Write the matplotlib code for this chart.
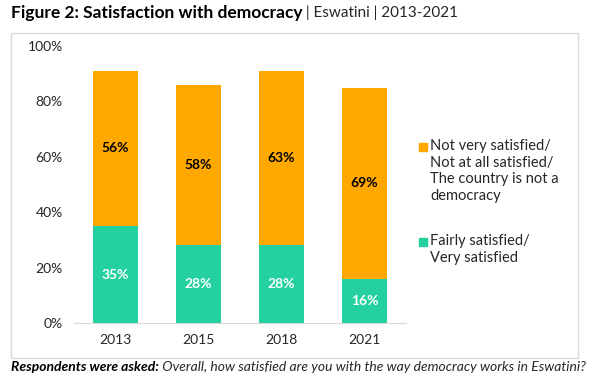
import matplotlib
matplotlib.use("Agg")
import matplotlib.pyplot as plt
from matplotlib.patches import Rectangle
from matplotlib.ticker import PercentFormatter

years = ["2013", "2015", "2018", "2021"]
satisfied = [35, 28, 28, 16]
not_satisfied = [56, 58, 63, 69]
yticks = [0, 20, 40, 60, 80, 100]

orange = "#FFA800"
green = "#25D0A0"
W, H = 609, 383

plt.rcParams["font.family"] = ["Lato", "DejaVu Sans"]

fig = plt.figure(figsize=(W / 100, H / 100), dpi=100)

# outer frame
fig.patches.append(Rectangle((11 / W, 1 - 358 / H), 567 / W, 325 / H,
                             transform=fig.transFigure, fill=False,
                             edgecolor="#d9d9d9", linewidth=1))

ax = fig.add_axes([74 / W, 1 - 323 / H, 332 / W, 277 / H])
x = range(len(years))
ax.bar(x, satisfied, width=0.55, color=green)
ax.bar(x, not_satisfied, width=0.55, bottom=satisfied, color=orange)

for i in x:
    ax.text(i, satisfied[i] / 2, f"{satisfied[i]}%", ha="center", va="center",
            color="white", fontsize=10, fontweight="bold")
    ax.text(i, satisfied[i] + not_satisfied[i] / 2, f"{not_satisfied[i]}%",
            ha="center", va="center", color="black", fontsize=10, fontweight="bold")

ax.set_xlim(-0.5, len(years) - 0.5)
ax.set_ylim(0, 100)
ax.set_yticks(yticks)
ax.yaxis.set_major_formatter(PercentFormatter(decimals=0))
ax.set_xticks(list(x))
ax.set_xticklabels(years)
for s in ["top", "right", "left"]:
    ax.spines[s].set_visible(False)
ax.spines["bottom"].set_color("#d9d9d9")
ax.tick_params(axis="both", length=0, labelsize=10, colors="#262626")
ax.tick_params(axis="y", pad=8)
ax.tick_params(axis="x", pad=8)

# legend drawn by hand
legend_items = [
    (orange, "Not very satisfied/\nNot at all satisfied/\nThe country is not a\ndemocracy", 147),
    (green, "Fairly satisfied/\nVery satisfied", 242),
]
for col, lab, ytop in legend_items:
    fig.patches.append(Rectangle((419 / W, 1 - (ytop + 4) / H), 8 / W, 8 / H,
                                 transform=fig.transFigure, color=col))
    fig.text(430 / W, 1 - (ytop - 8) / H, lab, ha="left", va="top",
             fontsize=10.5, color="#262626", linespacing=1.25)

# title
t = fig.text(11 / W, 1 - 13 / H, "Figure 2: Satisfaction with democracy",
             fontsize=12.5, fontweight="bold", va="center", color="black")
ax.annotate(" | Eswatini | 2013-2021", xy=(1, 0.5), xycoords=t,
            va="center", ha="left", fontsize=11, color="#262626")

# footer
f = fig.text(11 / W, 1 - 367 / H, "Respondents were asked:", fontsize=10,
             fontweight="bold", fontstyle="italic", va="center")
ax.annotate(" Overall, how satisfied are you with the way democracy works in Eswatini?",
            xy=(1, 0.5), xycoords=f, va="center", ha="left", fontsize=10,
            fontstyle="italic", color="#262626")

fig.savefig("out.png", dpi=100)
